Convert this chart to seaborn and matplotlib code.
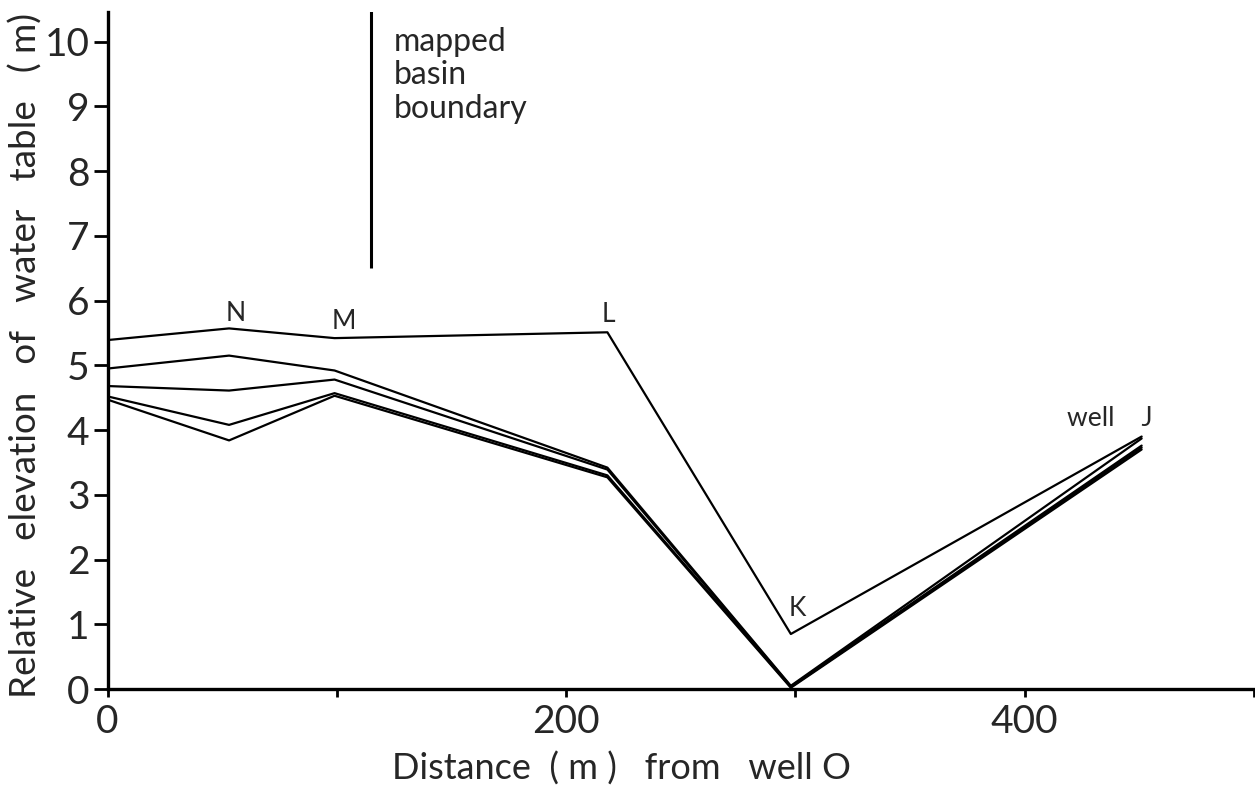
import numpy as np
import pandas as pd
import seaborn as sns
import matplotlib.pyplot as plt

# well positions along the transect (m from well O)
wells = ['O', 'N', 'M', 'L', 'K', 'J']
distance = [0, 53, 99, 218, 298, 451]

# relative water table elevation (m) at each well, one list per survey
survey_1 = [5.39, 5.57, 5.42, 5.51, 0.85, 3.90]
survey_2 = [4.95, 5.15, 4.92, 3.42, 0.05, 3.87]
survey_3 = [4.68, 4.61, 4.78, 3.39, 0.04, 3.76]
survey_4 = [4.52, 4.08, 4.57, 3.30, 0.03, 3.73]
survey_5 = [4.47, 3.84, 4.53, 3.27, 0.02, 3.70]

x_ticks = [0, 100, 200, 300, 400, 500]
x_ticklabels = ['0', '', '200', '', '400', '']
y_ticks = list(range(0, 11))

# mapped basin boundary
boundary_x = 115
boundary_ylim = (6.5, 10.5)

surveys = [survey_1, survey_2, survey_3, survey_4, survey_5]
df = pd.DataFrame({
    'distance': distance * len(surveys),
    'elevation': np.concatenate(surveys),
    'survey': np.repeat(np.arange(len(surveys)), len(distance)),
})

sns.set_style('ticks')
plt.rcParams['font.family'] = ['Lato', 'DejaVu Sans']

fig = plt.figure(figsize=(12.55, 7.88), dpi=100)
ax = fig.add_axes([0.0857, 0.1256, 0.9135, 0.8594])

sns.lineplot(data=df, x='distance', y='elevation', hue='survey', units='survey',
             estimator=None, sort=False, palette=['black'] * len(surveys),
             linewidth=1.6, legend=False, ax=ax)

ax.vlines(boundary_x, *boundary_ylim, color='black', linewidth=2.2)
ax.text(boundary_x + 10, 10.22, 'mapped\nbasin\nboundary', fontsize=23,
        va='top', ha='left', linespacing=1.13)

# well labels above the top profile
offsets = {'N': (5, 1.5), 'M': (7, 3), 'L': (1, 3.5), 'K': (5, 9)}
for w, x, y in zip(wells, distance, survey_1):
    if w in offsets:
        ax.annotate(w, (x, y), xytext=offsets[w], textcoords='offset points',
                    ha='center', va='bottom', fontsize=19)
ax.annotate('well    J', (distance[-1], survey_1[-1]), xytext=(8, 4),
            textcoords='offset points', ha='right', va='bottom', fontsize=19)

ax.set_xlim(0, 500)
ax.set_ylim(0, 10.46)
ax.set_xticks(x_ticks)
ax.set_xticklabels(x_ticklabels)
ax.set_yticks(y_ticks)
ax.tick_params(axis='both', direction='out', width=2, labelsize=28,
               color='black')
ax.tick_params(axis='y', length=10, pad=3)
ax.tick_params(axis='x', length=6, pad=5)
sns.despine(ax=ax)
for side in ['left', 'bottom']:
    ax.spines[side].set_linewidth(2.4)
    ax.spines[side].set_color('black')

ax.set_xlabel('Distance  ( m )   from   well O', fontsize=26)
ax.xaxis.set_label_coords(0.448, -0.092)
ax.set_ylabel('Relative   elevation   of   water   table   ( m)', fontsize=26.5)
ax.yaxis.set_label_coords(-0.057, 0.492)

fig.savefig('out.png', dpi=100)
